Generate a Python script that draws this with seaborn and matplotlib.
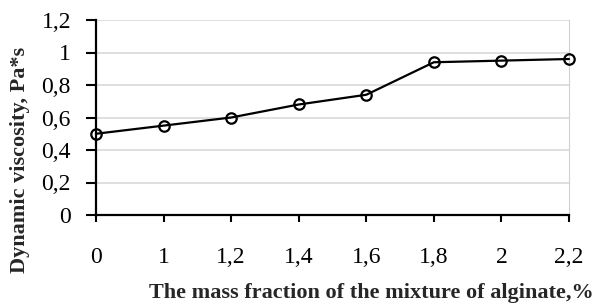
import numpy as np
import matplotlib
matplotlib.use("Agg")
import matplotlib.pyplot as plt
import seaborn as sns

# data
fractions = ["0", "1", "1,2", "1,4", "1,6", "1,8", "2", "2,2"]
viscosity = [0.50, 0.55, 0.60, 0.68, 0.74, 0.94, 0.95, 0.96]
y_ticks = [0, 0.2, 0.4, 0.6, 0.8, 1.0, 1.2]
y_tick_labels = ["0", "0,2", "0,4", "0,6", "0,8", "1", "1,2"]

sns.set_style("white")
plt.rcParams["font.family"] = ["Liberation Serif", "DejaVu Serif"]

fig = plt.figure(figsize=(5.96, 3.07), dpi=100)
ax = fig.add_axes([96 / 596, 1 - 215 / 307, (569 - 96) / 596, (215 - 20) / 307])

pos = np.arange(len(fractions))
sns.lineplot(x=pos, y=viscosity, ax=ax, color="black", linewidth=1.6,
             marker="o", markersize=7.5, markerfacecolor="none",
             markeredgecolor="black", markeredgewidth=1.6, zorder=3,
             clip_on=False)

ax.set_xlim(0, len(fractions) - 1)
ax.set_ylim(0, 1.2)
ax.set_xticks(pos)
ax.set_xticklabels(fractions, fontsize=17)
ax.set_yticks(y_ticks)
ax.set_yticklabels(y_tick_labels, fontsize=17)

ax.yaxis.grid(True, color="#d9d9d9", linewidth=1.2)
ax.set_axisbelow(True)
ax.spines["top"].set_visible(False)
ax.spines["right"].set_color("#d0d0d0")
ax.spines["left"].set_color("black")
ax.spines["bottom"].set_color("black")
ax.spines["left"].set_linewidth(1.6)
ax.spines["bottom"].set_linewidth(1.6)

ax.tick_params(axis="y", direction="out", length=7, width=1.5, pad=11,
               left=True, colors="black")
ax.tick_params(axis="x", direction="out", length=5, width=1.5, pad=18,
               bottom=True, colors="black")

fig.text(0.997, 1 - 293 / 307, "The mass fraction of the mixture of alginate,%",
         ha="right", va="center", fontsize=16, fontweight="bold")
fig.text(20 / 596, 1 - 160 / 307, "Dynamic viscosity, Pa*s",
         ha="center", va="center", rotation=90, fontsize=16, fontweight="bold")

fig.savefig("out.png", dpi=100)
